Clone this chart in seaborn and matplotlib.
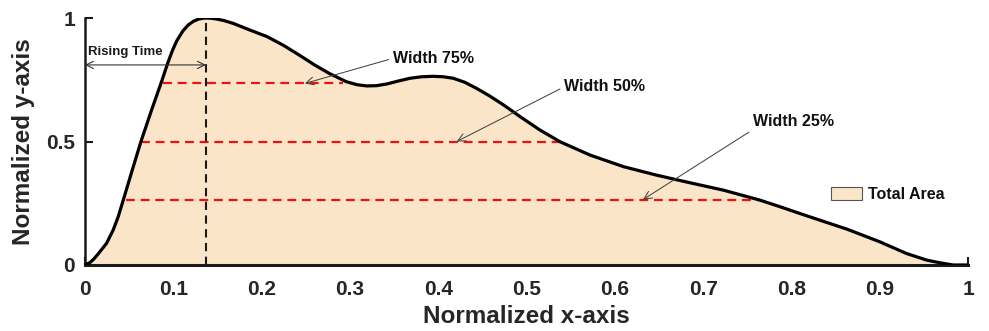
import matplotlib
matplotlib.use("Agg")
import matplotlib.pyplot as plt
import numpy as np
import pandas as pd
import seaborn as sns

# normalized pulse shape
curve_x = [0.0, 0.0057, 0.01, 0.015, 0.0245, 0.032, 0.0377, 0.0434, 0.049, 0.0566,
           0.0634, 0.0755, 0.087, 0.0935, 0.099, 0.104, 0.111, 0.117, 0.123, 0.129,
           0.136, 0.143, 0.149, 0.158, 0.168, 0.187, 0.206, 0.2245, 0.2435, 0.26,
           0.277, 0.296, 0.308, 0.319, 0.33, 0.342, 0.355, 0.368, 0.381, 0.394,
           0.406, 0.417, 0.43, 0.4435, 0.458, 0.474, 0.493, 0.515, 0.538, 0.572,
           0.61, 0.647, 0.685, 0.723, 0.764, 0.787, 0.81, 0.825, 0.863, 0.9,
           0.93, 0.953, 0.968, 0.983, 1.0]
curve_y = [0.0, 0.01, 0.024, 0.045, 0.088, 0.142, 0.196, 0.263, 0.33, 0.42,
           0.5, 0.628, 0.745, 0.815, 0.868, 0.908, 0.948, 0.972, 0.987, 0.996,
           1.0, 0.999, 0.996, 0.989, 0.978, 0.951, 0.925, 0.89, 0.848, 0.81,
           0.775, 0.742, 0.73, 0.725, 0.726, 0.733, 0.745, 0.756, 0.762, 0.764,
           0.762, 0.756, 0.74, 0.715, 0.685, 0.648, 0.6, 0.547, 0.499, 0.445,
           0.398, 0.364, 0.333, 0.303, 0.263, 0.236, 0.208, 0.19, 0.145, 0.094,
           0.047, 0.02, 0.009, 0.0, 0.0]

# width markers: level, start, end
width_labels = ["Width 75%", "Width 50%", "Width 25%"]
width_level = [0.735, 0.5, 0.265]
width_start = [0.088, 0.064, 0.046]
width_end = [0.2925, 0.542, 0.766]
width_tip_x = [0.249, 0.421, 0.632]
width_text_x = [0.349, 0.543, 0.757]
width_text_y = [0.837, 0.722, 0.58]

peak_x = 0.137
rising_y = 0.81

xtick_vals = [0, 0.1, 0.2, 0.3, 0.4, 0.5, 0.6, 0.7, 0.8, 0.9, 1]
xtick_labels = ["0", "0.1", "0.2", "0.3", "0.4", "0.5", "0.6", "0.7", "0.8", "0.9", "1"]
ytick_vals = [0, 0.5, 1]
ytick_labels = ["0", "0.5", "1"]

sns.set_theme(style="ticks")
plt.rcParams["font.family"] = ["Liberation Sans", "DejaVu Sans"]
plt.rcParams["font.weight"] = "bold"

fig = plt.figure(figsize=(9.89, 3.31), dpi=100)
ax = fig.add_axes([0.0859, 0.1994, 0.8929, 0.7462])

df = pd.DataFrame({"x": curve_x, "y": curve_y})
ax.fill_between(df["x"], df["y"], 0, color="#FBE5C8", lw=0, zorder=1, label="Total Area")
sns.lineplot(data=df, x="x", y="y", ax=ax, color="black", lw=2.3, zorder=5,
             sort=False, estimator=None, solid_joinstyle="round",
             solid_capstyle="round")

for lvl, x0, x1 in zip(width_level, width_start, width_end):
    ax.plot([x0, x1], [lvl, lvl], color="#EE1111", lw=1.6, dashes=(4, 2.6), zorder=3)

ax.plot([peak_x, peak_x], [0, 1], color="#1a1a1a", lw=1.5, dashes=(4, 2.6), zorder=4)

# rising time double arrow
ax.annotate("", xy=(0, rising_y), xytext=(peak_x, rising_y),
            arrowprops=dict(arrowstyle="<->", color="#333333", lw=0.8,
                            shrinkA=0, shrinkB=0, mutation_scale=13), zorder=6)
ax.text(0.004, 0.864, "Rising Time", fontsize=9.5, fontweight="bold",
        color="#1a1a1a", ha="left", va="center", zorder=6)

relpos = [(0, 0.5), (0, 0.5), (0, 0.0)]
for lab, lvl, tx, xt, yt, rp in zip(width_labels, width_level, width_tip_x,
                                     width_text_x, width_text_y, relpos):
    ax.annotate(lab, xy=(tx, lvl), xytext=(xt, yt), fontsize=11.5,
                fontweight="bold", color="#111111", ha="left", va="center",
                arrowprops=dict(arrowstyle="->", color="#444444", lw=0.75,
                                shrinkA=1, shrinkB=0, relpos=rp,
                                mutation_scale=14), zorder=6)

leg = ax.legend(loc="center left", bbox_to_anchor=(0.838, 0.285), frameon=False,
                fontsize=11.5, handlelength=1.9, handleheight=0.85,
                handletextpad=0.4, borderaxespad=0)
for h in leg.legend_handles:
    h.set_edgecolor("#555555")
    h.set_linewidth(0.8)
for t in leg.get_texts():
    t.set_fontweight("bold")
    t.set_color("#111111")

ax.set_xlim(0, 1)
ax.set_ylim(0, 1)
ax.set_xticks(xtick_vals)
ax.set_xticklabels(xtick_labels)
ax.set_yticks(ytick_vals)
ax.set_yticklabels(ytick_labels)
ax.set_axisbelow(True)
ax.tick_params(direction="in", length=6, width=1.5, color="#1a1a1a",
               labelsize=15, labelcolor="#262626")
ax.tick_params(axis="x", pad=11)
ax.tick_params(axis="y", pad=7)
for lab in ax.get_xticklabels() + ax.get_yticklabels():
    lab.set_fontweight("bold")

sns.despine(ax=ax)
ax.spines["left"].set_linewidth(1.8)
ax.spines["bottom"].set_linewidth(2.2)
ax.spines["left"].set_color("#1a1a1a")
ax.spines["bottom"].set_color("#1a1a1a")

ax.set_xlabel("Normalized x-axis", fontsize=17.5, fontweight="bold",
              color="#262626", labelpad=4)
ax.set_ylabel("Normalized y-axis", fontsize=17.5, fontweight="bold",
              color="#262626", labelpad=8)

fig.savefig("out.png", dpi=100)
